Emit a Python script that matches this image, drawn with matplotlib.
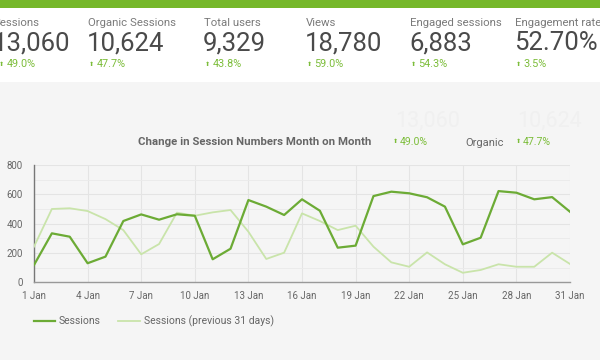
import matplotlib
matplotlib.use("Agg")
import matplotlib.pyplot as plt
from matplotlib.patches import Rectangle
from matplotlib.lines import Line2D

plt.rcParams['font.family'] = ['Roboto', 'DejaVu Sans']

# ---- data ----
days = list(range(1, 32))
sessions = [118, 334, 311, 130, 175, 418, 463, 427, 464, 454, 157, 229, 561, 516, 459,
            566, 488, 236, 250, 588, 618, 607, 580, 516, 259, 304, 622, 611, 566, 581, 481]
sessions_prev = [243, 500, 505, 486, 431, 356, 191, 261, 475, 454, 477, 493, 345, 159, 202,
                 470, 418, 356, 386, 243, 136, 106, 204, 123, 65, 84, 123, 106, 106, 202, 125]
xtick_days = [1, 4, 7, 10, 13, 16, 19, 22, 25, 28, 31]
xtick_labels = [f"{d} Jan" for d in xtick_days]
yticks = [0, 200, 400, 600, 800]

kpi_labels = ["Sessions", "Organic Sessions", "Total users", "Views", "Engaged sessions", "Engagement rate"]
kpi_values = ["13,060", "10,624", "9,329", "18,780", "6,883", "52.70%"]
kpi_changes = ["49.0%", "47.7%", "43.8%", "59.0%", "54.3%", "3.5%"]
kpi_x = [-6, 88, 204, 306, 410, 515]

title = "Change in Session Numbers Month on Month"
series_names = ["Sessions", "Sessions (previous 31 days)"]

W, H = 600, 360
fig = plt.figure(figsize=(6, 3.6), dpi=100, facecolor='#f5f5f5')

def P(x, y):
    return x / W, 1 - y / H

GREEN = '#76b82a'
DARK = '#6cab35'
LIGHT = '#c9e4aa'
PCT = '#7cbd3a'

# header backgrounds
fig.patches.append(Rectangle((0, 1 - 82 / H), 1, 82 / H, transform=fig.transFigure,
                             facecolor='white', edgecolor='none', zorder=0))
fig.patches.append(Rectangle((0, 1 - 8 / H), 1, 8 / H, transform=fig.transFigure,
                             facecolor=GREEN, edgecolor='none', zorder=1))

def arrow(x, y, color=PCT):
    fig.text(*P(x, y), '⬆', fontsize=4.5, color=color, ha='left', va='center',
             family=['DejaVu Sans'])

for i, (lab, val, ch, x) in enumerate(zip(kpi_labels, kpi_values, kpi_changes, kpi_x)):
    fig.text(*P(x, 23), lab, fontsize=8.2, color='#7a7a7a', ha='left', va='center')
    fig.text(*P(x - 1, 43), val, fontsize=18.5, color='#4a4a4a', ha='left', va='center')
    ax_ = -1 if i == 0 else x + 1
    arrow(ax_, 64)
    fig.text(*P(ax_ + 7.5, 64), ch, fontsize=7.8, color=PCT, ha='left', va='center')

# chart header
fig.text(*P(395, 121), kpi_values[0], fontsize=15.5, color='#f0f0f0', ha='left', va='center')
fig.text(*P(517, 121), kpi_values[1], fontsize=15.5, color='#f0f0f0', ha='left', va='center')
fig.text(*P(138, 142), title, fontsize=8.2, color='#666666', ha='left', va='center', fontweight='bold')
arrow(393, 142)
fig.text(*P(400, 142), kpi_changes[0], fontsize=7.6, color=PCT, ha='left', va='center')
fig.text(*P(465, 143), "Organic", fontsize=8, color='#666666', ha='left', va='center')
arrow(516, 142)
fig.text(*P(523, 142), kpi_changes[1], fontsize=7.6, color=PCT, ha='left', va='center')

# axes
ax = fig.add_axes([34 / W, 1 - 282.3 / H, (570 - 34) / W, (282.3 - 165) / H])
ax.set_facecolor('#f5f5f5')
ax.plot(days, sessions_prev, color=LIGHT, lw=1.3, zorder=3)
ax.plot(days, sessions, color=DARK, lw=1.6, zorder=4)
ax.set_xlim(1, 31)
ax.set_ylim(0, 800)
ax.set_xticks(xtick_days)
ax.set_xticklabels(xtick_labels)
ax.set_yticks(yticks)
ax.set_yticks(range(100, 800, 200), minor=True)
ax.grid(True, which='major', color='#e4e4e4', lw=0.8)
ax.grid(True, which='minor', axis='y', color='#ebebeb', lw=0.7)
ax.tick_params(axis='both', which='both', length=0, labelsize=7, labelcolor='#666666')
ax.tick_params(axis='x', pad=6)
ax.tick_params(axis='y', pad=8)
for s in ['top', 'right']:
    ax.spines[s].set_visible(False)
ax.spines['left'].set_color('#777777')
ax.spines['bottom'].set_color('#999999')
ax.spines['left'].set_linewidth(1.0)
ax.spines['bottom'].set_linewidth(1.0)

# legend
fig.lines.append(Line2D([34 / W, 55 / W], [1 - 321 / H] * 2, transform=fig.transFigure,
                        color=DARK, lw=1.6))
fig.text(*P(59, 321), series_names[0], fontsize=7.5, color='#666666', ha='left', va='center')
fig.lines.append(Line2D([118 / W, 140 / W], [1 - 321 / H] * 2, transform=fig.transFigure,
                        color=LIGHT, lw=1.3))
fig.text(*P(144, 321), series_names[1], fontsize=7.5, color='#666666', ha='left', va='center')

fig.savefig('out.png', dpi=100, facecolor=fig.get_facecolor())
